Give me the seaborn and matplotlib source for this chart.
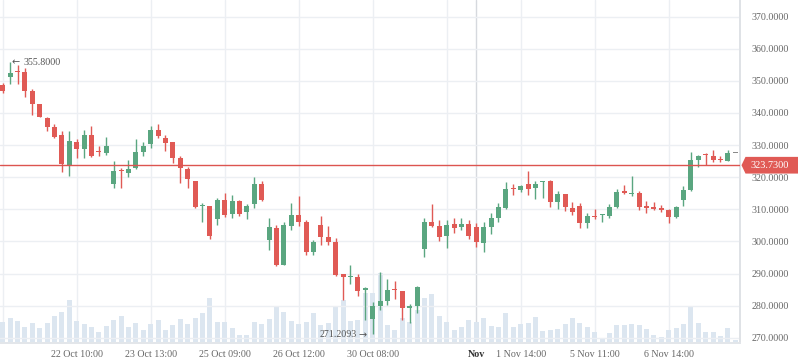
import numpy as np
import pandas as pd
import matplotlib
matplotlib.use('Agg')
import matplotlib.pyplot as plt
import seaborn as sns
from matplotlib.patches import Polygon
from matplotlib.transforms import blended_transform_factory

# ---------------------------------------------------------------
# Data (one candle per index 0..99)
# ---------------------------------------------------------------
opens = [348.7, 351.2, 353.0, 352.7, 346.9, 342.8, 338.3, 335.7, 333.1, 323.8,
         331.1, 328.8, 333.1, 328.0, 327.6, 318.0, 322.0, 321.4, 322.8, 327.9,
         330.2, 334.7, 332.1, 330.9, 325.9, 322.6, 318.7, 310.9, 311.0, 307.0,
         312.9, 308.5, 312.6, 309.1, 311.6, 317.9, 300.4, 304.3, 292.6, 304.9,
         308.2, 306.1, 296.8, 305.1, 301.5, 299.9, 289.8, 288.9, 289.0, 284.8,
         275.7, 279.9, 281.5, 285.0, 284.5, 279.4, 279.9, 297.6, 306.1, 304.8,
         301.7, 305.4, 304.6, 305.4, 304.5, 299.6, 304.6, 307.4, 310.5, 316.4,
         316.0, 317.9, 316.7, 318.4, 318.9, 312.4, 314.8, 310.3, 311.0, 305.8,
         307.8, 308.1, 307.9, 310.8, 315.4, 314.7, 315.0, 310.7, 310.8, 310.1,
         309.8, 307.7, 312.9, 316.0, 325.4, 327.0, 326.6, 325.5, 325.1, 327.4]

highs = [349.3, 355.8, 355.0, 353.9, 347.5, 342.8, 338.8, 336.5, 334.4, 334.4,
         331.9, 334.7, 335.9, 329.8, 332.5, 325.0, 322.8, 325.4, 331.9, 331.1,
         335.9, 336.5, 333.1, 330.9, 326.6, 323.3, 318.7, 311.9, 311.0, 313.6,
         315.0, 314.4, 313.0, 311.6, 320.2, 318.8, 307.2, 305.0, 306.1, 312.0,
         314.1, 306.7, 300.4, 307.9, 304.9, 301.2, 289.8, 292.6, 289.8, 285.9,
         281.2, 290.6, 288.3, 287.7, 284.5, 280.5, 286.1, 307.4, 311.6, 306.7,
         306.7, 307.4, 307.4, 306.7, 305.8, 306.1, 308.8, 311.9, 318.4, 317.8,
         317.6, 321.9, 318.8, 318.8, 319.1, 315.7, 314.8, 312.2, 311.9, 308.8,
         310.0, 308.4, 311.6, 316.2, 317.6, 320.4, 315.7, 312.6, 312.3, 311.2,
         310.1, 311.0, 317.3, 327.8, 326.9, 327.6, 328.5, 326.6, 328.5, 327.4]

lows = [346.3, 348.9, 348.9, 345.1, 339.4, 338.7, 334.4, 332.1, 321.7, 320.5,
        326.1, 326.1, 326.4, 326.7, 326.9, 316.7, 316.7, 320.2, 322.6, 326.7,
        329.2, 332.1, 328.3, 324.5, 318.3, 316.5, 310.5, 306.1, 300.8, 305.1,
        307.7, 307.2, 307.8, 307.0, 310.3, 312.6, 297.3, 292.3, 292.6, 303.6,
        304.9, 295.8, 295.8, 298.9, 298.9, 289.2, 281.7, 286.6, 283.1, 275.5,
        271.2093, 278.6, 280.2, 282.1, 275.5, 274.7, 277.8, 295.2, 304.6, 300.1,
        298.0, 302.7, 303.5, 300.8, 298.4, 296.8, 302.3, 306.0, 310.1, 314.5,
        315.5, 314.5, 313.2, 313.4, 310.8, 310.1, 309.6, 308.2, 304.1, 304.3,
        306.9, 306.1, 307.4, 310.3, 314.7, 314.1, 309.8, 308.9, 309.8, 309.2,
        305.6, 307.2, 311.0, 315.8, 323.3, 323.8, 324.8, 324.8, 325.1, 327.4]

closes = [346.9, 352.4, 352.8, 346.9, 342.8, 338.7, 335.7, 332.6, 324.2, 331.3,
          328.8, 333.1, 326.7, 327.7, 329.8, 321.9, 321.8, 322.6, 327.9, 329.7,
          334.7, 332.9, 330.7, 326.1, 323.0, 319.3, 310.8, 311.1, 301.8, 312.9,
          308.2, 312.6, 308.5, 311.1, 317.9, 312.9, 304.6, 292.6, 305.1, 308.2,
          306.1, 296.8, 299.7, 301.5, 299.9, 289.5, 288.8, 289.1, 284.6, 285.4,
          279.9, 281.5, 284.9, 284.8, 279.4, 279.9, 285.9, 306.1, 304.8, 301.5,
          305.1, 304.3, 305.4, 301.8, 299.9, 304.5, 307.4, 310.6, 316.3, 316.2,
          317.3, 316.3, 317.9, 318.6, 312.4, 314.8, 310.6, 309.3, 305.8, 307.9,
          307.6, 308.3, 310.6, 315.4, 315.2, 314.9, 310.8, 310.5, 310.1, 309.9,
          307.7, 310.6, 316.0, 325.4, 326.6, 326.8, 325.4, 325.3, 327.4, 327.4]

volumes = [21, 25, 22, 16, 20, 15, 20, 27, 31, 43,
           22, 19, 16, 11, 17, 23, 27, 16, 20, 13,
           19, 23, 13, 18, 24, 19, 25, 30, 45, 21,
           21, 15, 8, 8, 21, 19, 24, 36, 31, 22,
           19, 21, 30, 18, 20, 36, 43, 22, 23, 50,
           50, 70, 18, 13, 25, 21, 33, 45, 49, 27,
           21, 13, 16, 23, 21, 25, 17, 16, 30, 16,
           19, 20, 26, 12, 13, 14, 19, 25, 20, 16,
           11, 5, 10, 18, 18, 19, 18, 14, 8, 6,
           13, 15, 19, 36, 20, 11, 11, 7, 15, 3]

tick_idx = [10, 20, 30, 40, 50, 64, 70, 80, 90]
tick_labels = ['22 Oct 10:00', '23 Oct 13:00', '25 Oct 09:00', '26 Oct 12:00',
               '30 Oct 08:00', 'Nov', '1 Nov 14:00', '5 Nov 11:00', '6 Nov 14:00']
grid_idx = list(range(0, 100, 10))
month_idx = 64
price_ticks = list(range(270, 371, 10))
last_price = 323.73
max_idx, max_val = 1, 355.8
min_idx, min_val = 50, 271.2093

# ---------------------------------------------------------------
# Style
# ---------------------------------------------------------------
GREEN = '#5aa680'
RED = '#e05a55'
FLAT = '#8a8a8a'
VOL = '#dce6f0'
GRID = '#eceff3'
TXT = '#666666'

sns.set_theme(style='white')
plt.rcParams['font.family'] = ['Liberation Serif', 'DejaVu Sans']

df = pd.DataFrame({'idx': np.arange(len(opens)), 'open': opens, 'high': highs,
                   'low': lows, 'close': closes, 'volume': volumes})
df['color'] = np.where(df['close'] > df['open'], GREEN,
                       np.where(df['close'] < df['open'], RED, FLAT))

fig = plt.figure(figsize=(7.98, 3.63), dpi=100)
ax = fig.add_axes([0, 20 / 363, 740 / 798, 343 / 363])
ax2 = ax.twinx()

# volume (background)
ax.bar(df['idx'], df['volume'], width=0.66, color=VOL, linewidth=0, zorder=1)
ax.set_ylim(0, max(volumes) * 4.9)
ax.set_yticks([])

# vertical grid
for g in grid_idx:
    ax.axvline(g, color=GRID, lw=1, zorder=0)
ax.axvline(month_idx, color='#d6d9de', lw=1, zorder=0)

# candles
ax2.vlines(df['idx'], df['low'], df['high'], colors=df['color'], lw=1, zorder=3)
body_lo = np.minimum(df['open'], df['close'])
body_h = np.maximum(np.abs(df['close'] - df['open']), 0.4)
ax2.bar(df['idx'], body_h, bottom=body_lo, width=0.68, color=df['color'],
        linewidth=0, zorder=4)

ax2.axhline(last_price, color='#dc5450', lw=1, zorder=5)

ax.set_xlim(-0.365, 99.64)
ax2.set_ylim(268.35, 375.2)
ax2.set_yticks(price_ticks)
ax2.set_yticklabels([f'{p:.4f}' for p in price_ticks])
ax2.grid(axis='y', color=GRID, lw=1)
ax2.set_axisbelow(True)
ax2.tick_params(axis='y', length=0, pad=8, labelsize=7.2, labelcolor=TXT)

ax.set_xticks(tick_idx)
ax.set_xticklabels(tick_labels)
ax.tick_params(axis='x', length=0, pad=5, labelsize=7.2, labelcolor=TXT)
for lbl in ax.get_xticklabels():
    if lbl.get_text() == 'Nov':
        lbl.set_fontweight('bold')
        lbl.set_color('#333333')

for a in (ax, ax2):
    for s in ['top', 'left']:
        a.spines[s].set_visible(False)
    a.spines['right'].set_color('#dfe2e6')
    a.spines['bottom'].set_color('#e3e6ea')

# max / min labels
ax2.text(max_idx + 0.2, max_val, '\u2190', ha='left', va='center',
         fontsize=7, color='#555555', family=['DejaVu Sans'], zorder=6)
ax2.text(max_idx + 1.85, max_val, f'{max_val:.4f}', ha='left', va='center',
         fontsize=7.2, color='#555555', zorder=6)
ax2.text(min_idx - 2.1, min_val - 0.3, f'{min_val:.4f}', ha='right', va='center',
         fontsize=7.2, color='#555555', zorder=6)
ax2.text(min_idx - 1.9, min_val - 0.3, '\u2192', ha='left', va='center',
         fontsize=7, color='#555555', family=['DejaVu Sans'], zorder=6)

# last price tag on the axis
tr = blended_transform_factory(fig.transFigure, ax2.transData)
hh = 2.6
tag = Polygon([(741.5 / 798, last_price), (745.5 / 798, last_price + hh),
               (1.0, last_price + hh), (1.0, last_price - hh),
               (745.5 / 798, last_price - hh)],
              closed=True, transform=tr, facecolor='#e05a55', edgecolor='none',
              clip_on=False, zorder=10)
fig.add_artist(tag)
fig.text(770 / 798, last_price, f'{last_price:.4f}', transform=tr, ha='center',
         va='center', fontsize=7.4, color='white', zorder=11)

fig.savefig('out.png', dpi=100)
